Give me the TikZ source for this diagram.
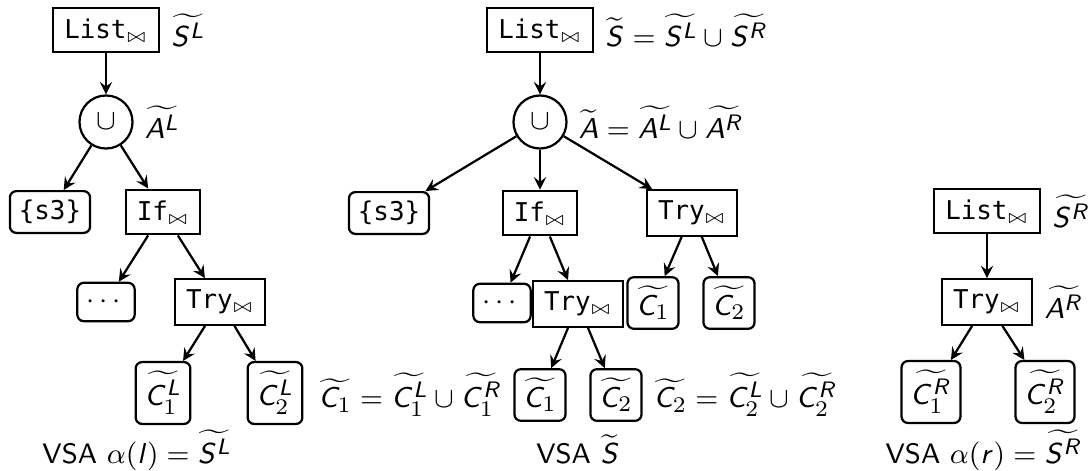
\documentclass[tikz,border=0pt]{standalone}
\usepackage{amsmath}
\usepackage{fontspec}
\setmonofont{DejaVu Sans Mono}[Scale=0.92]
\usepackage{tikz}
\renewcommand{\familydefault}{\sfdefault}
% sans serif math: upright digits, slanted letters
\SetSymbolFont{operators}{normal}{OT1}{cmss}{m}{n}
\DeclareSymbolFont{sfletters}{OT1}{cmss}{m}{sl}
\newcommand{\sfletter}[1]{\DeclareMathSymbol{#1}{\mathalpha}{sfletters}{`#1}}
\sfletter A \sfletter C \sfletter L \sfletter R \sfletter S \sfletter l \sfletter r
\DeclareMathSizes{8.8}{8.8}{6.8}{4.6}
\newcommand{\join}{_{\scriptscriptstyle\bowtie}}

\begin{document}
\begin{tikzpicture}[x=0.011cm, y=-0.011cm, >=stealth,
  every node/.style={font=\fontsize{8.8}{10.5}\selectfont},
  op/.style={draw, line width=0.7pt, rectangle, inner xsep=3.5pt, minimum height=14pt},
  leaf/.style={draw, line width=0.7pt, rectangle, rounded corners=2pt, inner sep=2.8pt, minimum height=12pt},
  union/.style={draw, line width=0.7pt, circle, inner sep=1.5pt, minimum size=16.6pt},
  edge/.style={->, line width=0.7pt}]
\useasboundingbox (0,0) rectangle (1092,470);

% Left tree
\node[op, label=right:$\widetilde{S^L}$] (lList) at (106,30) {\texttt{List}$\join$};
\node[union, label=right:$\widetilde{A^L}$] (lUnion) at (106,122) {$\cup$};
\node[leaf] (lS3) at (50,212) {\texttt{\{s3\}}};
\node[op] (lIf) at (163,212) {\texttt{If}$\join$};
\node[leaf] (lDots) at (106,302) {$\cdots$};
\node[op] (lTry) at (220,302) {\texttt{Try}$\join$};
\node[leaf] (lC1) at (163,393) {$\widetilde{C^L_1}$};
\node[leaf] (lC2) at (275,393) {$\widetilde{C^L_2}$};
\node[anchor=base] (lCap) at (137,463) {VSA $\alpha(l) = \widetilde{S^L}$};

\draw[edge] (lList) -- (lUnion);
\draw[edge] (lUnion) -- (lS3);
\draw[edge] (lUnion) -- (lIf);
\draw[edge] (lIf) -- (lDots);
\draw[edge] (lIf) -- (lTry);
\draw[edge] (lTry) -- (lC1);
\draw[edge] (lTry) -- (lC2);

% Middle tree
\node[op, label={right:{$\widetilde{S} = \widetilde{S^L} \cup \widetilde{S^R}$}}] (mList) at (540,30) {\texttt{List}$\join$};
\node[union, label={right:{$\widetilde{A} = \widetilde{A^L} \cup \widetilde{A^R}$}}] (mUnion) at (540,122) {$\cup$};
\node[leaf] (mS3) at (389,213) {\texttt{\{s3\}}};
\node[op] (mIf) at (540,213) {\texttt{If}$\join$};
\node[op] (mTry) at (692,213) {\texttt{Try}$\join$};
\node[leaf] (mDots) at (502,303) {$\cdots$};
\node[op] (mTryB) at (578,304) {\texttt{Try}$\join$};
\node[leaf] (mC1) at (653,303) {$\widetilde{C_1}$};
\node[leaf] (mC2) at (729,303) {$\widetilde{C_2}$};
\node[leaf, label={left:{$\widetilde{C_1} = \widetilde{C^L_1} \cup \widetilde{C^R_1}$}}] (mC1b) at (540,395) {$\widetilde{C_1}$};
\node[leaf, label={right:{$\widetilde{C_2} = \widetilde{C^L_2} \cup \widetilde{C^R_2}$}}] (mC2b) at (616,395) {$\widetilde{C_2}$};
\node[anchor=base] (mCap) at (578,463) {VSA $\widetilde{S}$};

\draw[edge] (mList) -- (mUnion);
\draw[edge] (mUnion) -- (mS3);
\draw[edge] (mUnion) -- (mIf);
\draw[edge] (mUnion) -- (mTry);
\draw[edge] (mIf) -- (mDots);
\draw[edge] (mIf) -- (mTryB);
\draw[edge] (mTry) -- (mC1);
\draw[edge] (mTry) -- (mC2);
\draw[edge] (mTryB) -- (mC1b);
\draw[edge] (mTryB) -- (mC2b);

% Right tree
\node[op, label=right:$\widetilde{S^R}$] (rList) at (987,211) {\texttt{List}$\join$};
\node[op, label=right:$\widetilde{A^R}$] (rTry) at (987,302) {\texttt{Try}$\join$};
\node[leaf] (rC1) at (931,392) {$\widetilde{C^R_1}$};
\node[leaf] (rC2) at (1045,392) {$\widetilde{C^R_2}$};
\node[anchor=base] (rCap) at (984,463) {VSA $\alpha(r) = \widetilde{S^R}$};

\draw[edge] (rList) -- (rTry);
\draw[edge] (rTry) -- (rC1);
\draw[edge] (rTry) -- (rC2);

\end{tikzpicture}
\end{document}
